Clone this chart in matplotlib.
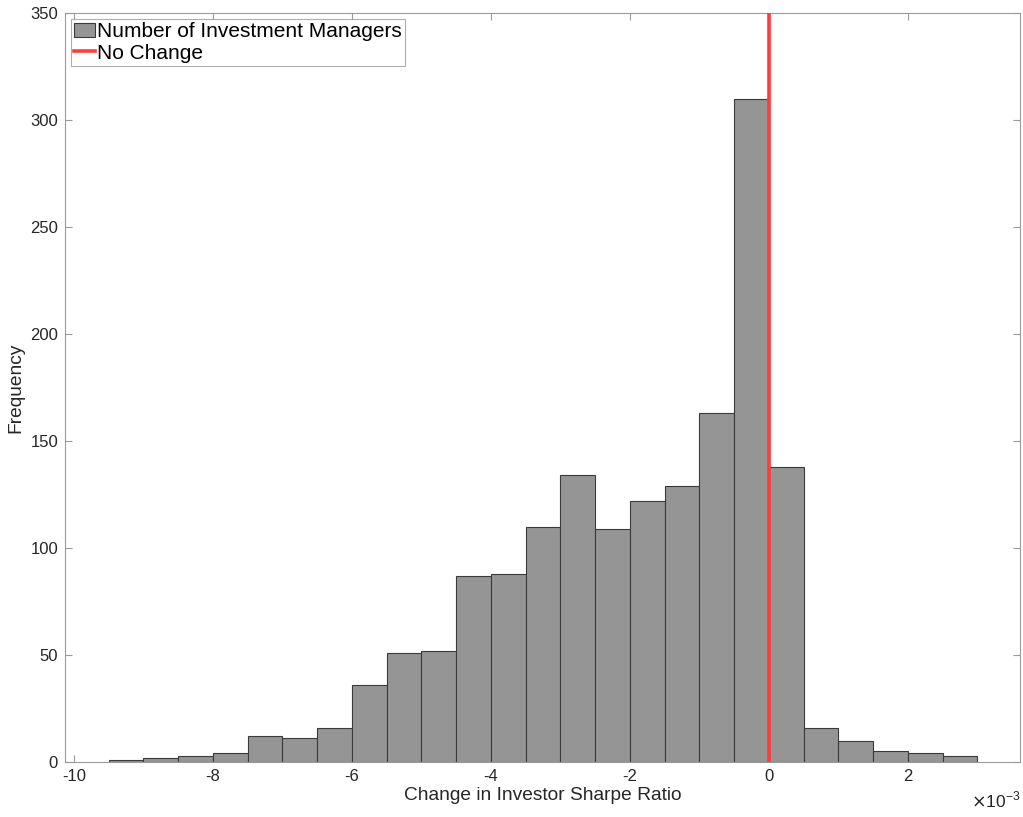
import numpy as np
import matplotlib.pyplot as plt

plt.rcParams['font.family'] = ['Liberation Sans', 'DejaVu Sans']
plt.rcParams['axes.unicode_minus'] = False

# values shown in units of 1e-3 (axis carries the x10^-3 multiplier)
bin_left = np.arange(-9.5, 3.0, 0.5)
bin_width = 0.5
counts = [1, 2, 3, 4, 12, 11, 16, 36, 51, 52, 87, 88, 110, 134,
          109, 122, 129, 163, 310, 138, 16, 10, 5, 4, 3]
xticks = [-10, -8, -6, -4, -2, 0, 2]

fig = plt.figure(figsize=(10.23, 8.17), dpi=100)
ax = fig.add_axes([0.0635, 0.0673, 0.934, 0.9167])

bars = ax.bar(bin_left, counts, width=bin_width, align='edge', color='#959595',
              edgecolor='#3a3a3a', linewidth=0.8,
              label='Number of Investment Managers', zorder=2)
line = ax.axvline(0, color='#ff3b3b', linewidth=2.6, label='No Change', zorder=3)

ax.set_xlim(-10.13, 3.62)
ax.set_ylim(0, 350)
ax.set_xticks(xticks)
ax.set_yticks(range(0, 351, 50))

ax.text(1.0, -0.037, r'$\times$10$^{\mathregular{-3}}$', transform=ax.transAxes,
        ha='right', va='top', fontsize=12.5, color='#262626')

for s in ax.spines.values():
    s.set_color('#9a9a9a')
    s.set_linewidth(0.8)
ax.tick_params(direction='in', top=True, right=True, length=5, color='#9a9a9a',
               labelsize=12, labelcolor='#262626', pad=5)

ax.set_xlabel('Change in Investor Sharpe Ratio', fontsize=13.8, color='#262626',
              labelpad=2)
ax.set_ylabel('Frequency', fontsize=13.8, color='#262626', labelpad=4)

leg = ax.legend(handles=[bars, line], loc='upper left', fontsize=15,
                frameon=True, fancybox=False, borderaxespad=0.3,
                handlelength=1.0, handletextpad=0.1, borderpad=0.15,
                labelspacing=0.1)
leg.get_frame().set_edgecolor('#9a9a9a')
leg.get_frame().set_linewidth(0.8)

plt.savefig('out.png', dpi=100)
